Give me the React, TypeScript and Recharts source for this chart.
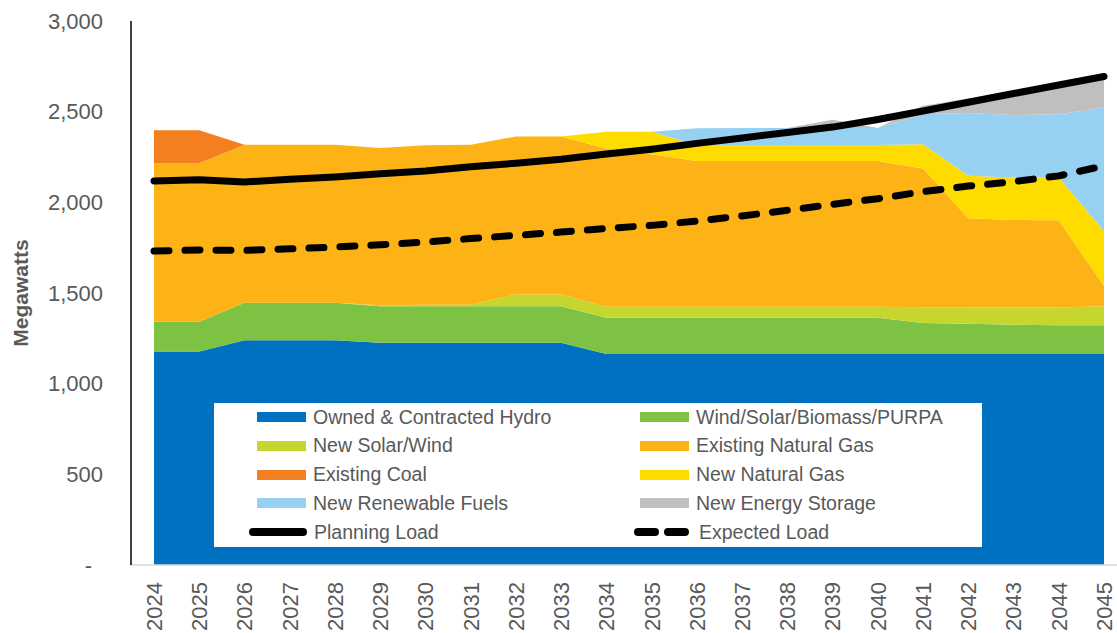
import { ComposedChart, Area, Line, XAxis, YAxis, Legend } from 'recharts';

const YEARS = [
  '2024', '2025', '2026', '2027', '2028', '2029', '2030', '2031', '2032', '2033', '2034',
  '2035', '2036', '2037', '2038', '2039', '2040', '2041', '2042', '2043', '2044', '2045',
];

const HYDRO = [1177, 1177, 1240, 1240, 1240, 1225, 1225, 1225, 1225, 1225, 1163, 1163, 1163, 1163, 1163, 1163, 1163, 1163, 1163, 1163, 1163, 1163];
const WIND_SOLAR_PURPA = [164, 164, 206, 206, 206, 202, 202, 202, 202, 202, 200, 200, 200, 200, 200, 200, 200, 172, 167, 162, 159, 159];
const NEW_SOLAR_WIND = [0, 0, 0, 0, 0, 5, 8, 8, 65, 65, 61, 61, 61, 61, 61, 61, 61, 87, 90, 95, 98, 105];
const EXISTING_GAS = [875, 875, 871, 871, 871, 868, 880, 882, 871, 871, 873, 841, 804, 804, 804, 804, 804, 764, 492, 483, 481, 111];
const EXISTING_COAL = [182, 182, 0, 0, 0, 0, 0, 0, 0, 0, 0, 0, 0, 0, 0, 0, 0, 0, 0, 0, 0, 0];
const NEW_GAS = [0, 0, 0, 0, 0, 0, 0, 0, 0, 0, 92, 124, 88, 88, 88, 88, 88, 134, 234, 234, 236, 304];
const NEW_RENEWABLE_FUELS = [0, 0, 0, 0, 0, 0, 0, 0, 0, 0, 0, 0, 93, 94, 94, 94, 94, 166, 346, 344, 349, 681];
const NEW_STORAGE = [0, 0, 0, 0, 0, 0, 0, 0, 0, 0, 0, 0, 0, 0, 0, 45, 0, 46, 80, 120, 160, 167];
const PLANNING_LOAD = [2118, 2125, 2112, 2127, 2140, 2158, 2173, 2196, 2216, 2238, 2266, 2293, 2325, 2355, 2385, 2415, 2457, 2504, 2552, 2600, 2647, 2694];
const EXPECTED_LOAD = [1731, 1737, 1735, 1744, 1753, 1766, 1781, 1800, 1818, 1836, 1856, 1873, 1897, 1925, 1956, 1989, 2020, 2059, 2090, 2114, 2146, 2201];

const Y_TICKS = [0, 500, 1000, 1500, 2000, 2500, 3000];

const AREAS = [
  { key: 'hydro', name: 'Owned & Contracted Hydro', color: '#0070C0', values: HYDRO },
  { key: 'wind', name: 'Wind/Solar/Biomass/PURPA', color: '#7DC242', values: WIND_SOLAR_PURPA },
  { key: 'newSolar', name: 'New Solar/Wind', color: '#C5D72E', values: NEW_SOLAR_WIND },
  { key: 'gas', name: 'Existing Natural Gas', color: '#FDB316', values: EXISTING_GAS },
  { key: 'coal', name: 'Existing Coal', color: '#F47F20', values: EXISTING_COAL },
  { key: 'newGas', name: 'New Natural Gas', color: '#FFDC00', values: NEW_GAS },
  { key: 'renew', name: 'New Renewable Fuels', color: '#97D1F1', values: NEW_RENEWABLE_FUELS },
  { key: 'storage', name: 'New Energy Storage', color: '#BFBFBF', values: NEW_STORAGE },
];

const data = YEARS.map((year, i) => {
  const row: Record<string, number | string> = { year };
  AREAS.forEach((a) => { row[a.key] = a.values[i]; });
  row.planning = PLANNING_LOAD[i];
  row.expected = EXPECTED_LOAD[i];
  return row;
});

const TEXT = '#595959';
const FONT = 'Arial, "Liberation Sans", sans-serif';

const YTick = (props: any) => {
  const { x, y, payload } = props;
  const v = payload.value;
  return (
    <text x={v === 0 ? x - 11 : x} y={y} textAnchor="end" dominantBaseline="central" fill={TEXT} fontSize={22} fontFamily={FONT}>
      {v === 0 ? '-' : v.toLocaleString('en-US')}
    </text>
  );
};

const XTick = (props: any) => {
  const { x, y, payload } = props;
  return (
    <g transform={`translate(${x},${y})`}>
      <text transform="rotate(-90)" textAnchor="end" dy="0.36em" fill={TEXT} fontSize={22} fontFamily={FONT}>
        {payload.value}
      </text>
    </g>
  );
};

const YLabel = (props: any) => {
  const { viewBox } = props;
  const cx = 20;
  const cy = viewBox.y + viewBox.height / 2;
  return (
    <text x={cx} y={cy} transform={`rotate(-90, ${cx}, ${cy})`} textAnchor="middle" dominantBaseline="central" fill={TEXT} fontSize={21} fontWeight="bold" fontFamily={FONT}>
      Megawatts
    </text>
  );
};

const legendRows = [
  [AREAS[0], AREAS[1]],
  [AREAS[2], AREAS[3]],
  [AREAS[4], AREAS[5]],
  [AREAS[6], AREAS[7]],
];

const Swatch = ({ color }: { color: string }) => (
  <svg width={49} height={12} style={{ display: 'block' }}>
    <rect x={0} y={1} width={49} height={10} fill={color} />
  </svg>
);

const LineSwatch = ({ dashed }: { dashed?: boolean }) => (
  <svg width={58} height={12} style={{ display: 'block' }}>
    <line x1={4} y1={6} x2={54} y2={6} stroke="#000" strokeWidth={8} strokeLinecap="round" strokeDasharray={dashed ? '17 13' : undefined} />
  </svg>
);

const renderLegend = () => {
  const cell = (swatch: any, label: string, left: number, top: number) => (
    <div style={{ position: 'absolute', left, top, display: 'flex', alignItems: 'center', height: 20 }}>
      {swatch}
      <span style={{ marginLeft: 7, fontSize: 19.5, color: TEXT, fontFamily: FONT, whiteSpace: 'nowrap' }}>{label}</span>
    </div>
  );
  return (
    <div style={{ position: 'relative', width: 768, height: 144, background: '#fff' }}>
      {legendRows.map((row, r) => (
        <div key={r}>
          {cell(<Swatch color={row[0].color} />, row[0].name, 43, 4 + r * 28.75)}
          {cell(<Swatch color={row[1].color} />, row[1].name, 426, 4 + r * 28.75)}
        </div>
      ))}
      {cell(<LineSwatch />, 'Planning Load', 35, 4 + 4 * 28.75)}
      {cell(<LineSwatch dashed />, 'Expected Load', 420, 4 + 4 * 28.75)}
    </div>
  );
};

export default function App() {
  return (
    <div style={{ position: 'absolute', left: 0, top: 0, background: '#fff' }}>
      <ComposedChart width={1117} height={633} data={data} margin={{ top: 21, right: 0, bottom: 0, left: 0 }}>
        <XAxis
          dataKey="year"
          scale="point"
          padding={{ left: 23, right: 13 }}
          height={68}
          interval={0}
          tick={<XTick />}
          tickLine={false}
          tickSize={6}
          tickMargin={11}
          axisLine={{ stroke: '#D9D9D9', strokeWidth: 1.5 }}
        />
        <YAxis
          width={131}
          domain={[0, 3000]}
          ticks={Y_TICKS}
          interval={0}
          tick={<YTick />}
          tickLine={false}
          tickSize={6}
          tickMargin={22}
          axisLine={{ stroke: '#000', strokeWidth: 1.5 }}
          label={<YLabel />}
        />
        {AREAS.map((a) => (
          <Area
            key={a.key}
            type="linear"
            dataKey={a.key}
            name={a.name}
            stackId="1"
            stroke="none"
            fill={a.color}
            fillOpacity={1}
            isAnimationActive={false}
          />
        ))}
        <Line type="linear" dataKey="planning" name="Planning Load" stroke="#000" strokeWidth={7} strokeLinecap="round" strokeLinejoin="round" dot={false} activeDot={false} isAnimationActive={false} />
        <Line type="linear" dataKey="expected" name="Expected Load" stroke="#000" strokeWidth={7} strokeLinecap="round" strokeDasharray="15 16" dot={false} activeDot={false} isAnimationActive={false} />
        <Legend
          layout="horizontal"
          align="center"
          verticalAlign="middle"
          content={renderLegend}
          wrapperStyle={{ left: 214, top: 403, width: 768, height: 144 }}
        />
      </ComposedChart>
    </div>
  );
}
